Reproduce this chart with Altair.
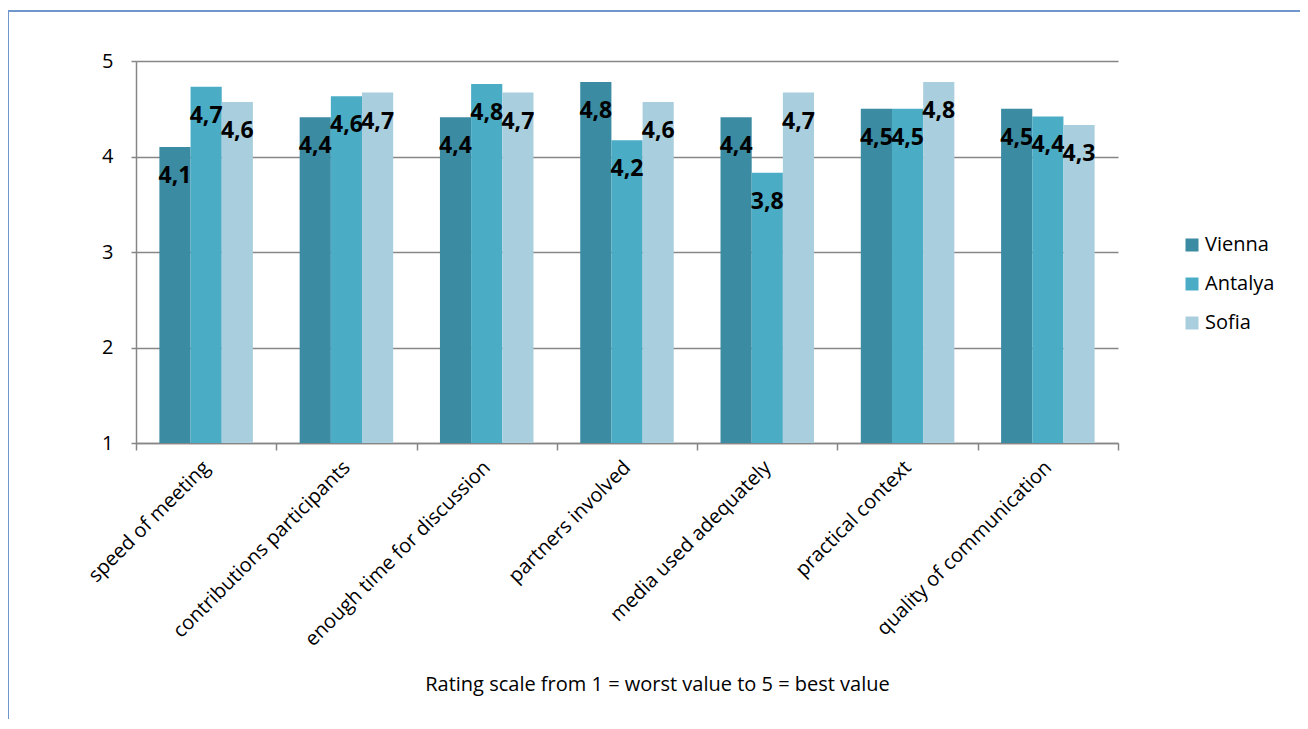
import altair as alt
import pandas as pd

categories = [
    "speed of meeting",
    "contributions participants",
    "enough time for discussion",
    "partners involved",
    "media used adequately",
    "practical context",
    "quality of communication",
]
cities = ["Vienna", "Antalya", "Sofia"]
vienna = [4.10, 4.41, 4.41, 4.78, 4.41, 4.50, 4.50]
antalya = [4.73, 4.63, 4.76, 4.17, 3.83, 4.50, 4.42]
sofia = [4.57, 4.67, 4.67, 4.57, 4.67, 4.78, 4.33]
colors = ["#3B8BA2", "#4BACC6", "#A9CFDE"]
y_ticks = [1, 2, 3, 4, 5]
x_title = "Rating scale from 1 = worst value to 5 = best value"

rows = []
for name, vals in zip(cities, [vienna, antalya, sofia]):
    for c, v in zip(categories, vals):
        rows.append({"category": c, "city": name, "value": v})
df = pd.DataFrame(rows)

FONT = "Open Sans"
GRAY = "#868686"

x = alt.X(
    "category:N",
    sort=categories,
    scale=alt.Scale(paddingInner=0, paddingOuter=0),
    axis=alt.Axis(
        title=x_title,
        labelAngle=-45,
        labelAlign="right",
        labelBaseline="middle",
        labelPadding=14,
        labelLimit=1000,
        tickBand="extent",
        tickSize=7,
        tickColor=GRAY,
        tickWidth=1.5,
        domainColor=GRAY,
        domainWidth=1.5,
        labelFont=FONT,
        labelFontSize=20,
        labelColor="#000000",
        titleFont=FONT,
        titleFontSize=20,
        titleFontWeight="normal",
        titleColor="#000000",
        titleX=521,
        titleY=241,
        titleAlign="center",
        titleBaseline="middle",
    ),
)
xoff = alt.XOffset("city:N", sort=cities, scale=alt.Scale(paddingInner=0, paddingOuter=0.75))
y = alt.Y(
    "value:Q",
    scale=alt.Scale(domain=[1, 5], nice=False, zero=False),
    axis=alt.Axis(
        title=None,
        values=y_ticks,
        format="d",
        tickSize=5,
        tickColor=GRAY,
        tickWidth=1.5,
        grid=True,
        gridColor=GRAY,
        gridWidth=1.5,
        domainColor=GRAY,
        domainWidth=1.5,
        labelFont=FONT,
        labelFontSize=20,
        labelColor="#000000",
        labelPadding=18,
    ),
)

base = alt.Chart(df).transform_calculate(
    label="replace(format(datum.value, '.1f'), '.', ',')"
)

bars = base.mark_bar().encode(
    x=x,
    xOffset=xoff,
    y=y,
    y2=alt.datum(1),
    color=alt.Color(
        "city:N",
        sort=cities,
        scale=alt.Scale(domain=cities, range=colors),
        legend=alt.Legend(
            title=None,
            orient="none",
            legendX=1046,
            legendY=174,
            padding=0,
            symbolType="square",
            symbolSize=169,
            symbolStrokeWidth=0,
            labelFont=FONT,
            labelFontSize=20,
            labelColor="#000000",
            rowPadding=19,
            labelOffset=3,
        ),
    ),
)

labels = base.mark_text(
    baseline="middle", dy=29, font=FONT, fontSize=23, fontWeight="bold", color="#000000"
).encode(x=x, xOffset=xoff, y=y, text="label:N")

frame_data = alt.Data(values=[{"k": 1}])
frame_left = alt.Chart(frame_data).mark_rule(color="#6F97CC", strokeWidth=2).encode(
    x=alt.value(-128), y=alt.value(-50), y2=alt.value(800)
)
frame_top = alt.Chart(frame_data).mark_rule(color="#6F97CC", strokeWidth=2).encode(
    x=alt.value(-128), x2=alt.value(1400), y=alt.value(-50)
)

chart = (
    alt.layer(bars, labels, frame_left, frame_top)
    .properties(
        width=982,
        height=382,
        autosize=alt.AutoSizeParams(type="none"),
        padding={"left": 128, "top": 53, "right": 182, "bottom": 276},
    )
    .configure_view(stroke="transparent")
)

chart.save("out.html", embed_options={"renderer": "svg", "actions": False})
